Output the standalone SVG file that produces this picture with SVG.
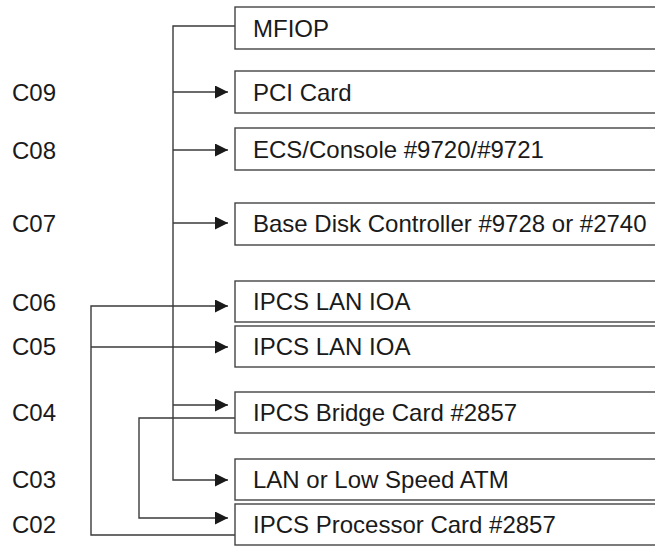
<svg xmlns="http://www.w3.org/2000/svg" width="655" height="546" viewBox="0 0 655 546">
<style>
.box{fill:#fff;stroke:#444;stroke-width:1.4}
.t{font-family:"Liberation Sans",Arial,sans-serif;font-size:24px;fill:#1a1a1a}
.c{fill:none;stroke:#3a3a3a;stroke-width:1.4}
</style>
<defs>
<marker id="ah" markerUnits="userSpaceOnUse" markerWidth="13" markerHeight="13" refX="13" refY="6.5" orient="auto">
<path d="M0,0 L13,6.5 L0,13 z" fill="#1a1a1a"/>
</marker>
</defs>
<rect width="655" height="546" fill="#fff"/>
<g id="slots">
<text class="t" x="12" y="100.5">C09</text>
<text class="t" x="12" y="158.5">C08</text>
<text class="t" x="12" y="232">C07</text>
<text class="t" x="12" y="310.5">C06</text>
<text class="t" x="12" y="355">C05</text>
<text class="t" x="12" y="421">C04</text>
<text class="t" x="12" y="488">C03</text>
<text class="t" x="12" y="533">C02</text>
</g>
<g id="connectors">
<path class="c" d="M235,26 H173 V480 H228" marker-end="url(#ah)"/>
<path class="c" d="M173,92 H228" marker-end="url(#ah)"/>
<path class="c" d="M173,150 H228" marker-end="url(#ah)"/>
<path class="c" d="M173,223 H228" marker-end="url(#ah)"/>
<path class="c" d="M173,405 H228" marker-end="url(#ah)"/>
<path class="c" d="M235,535 H91 V306 H228" marker-end="url(#ah)"/>
<path class="c" d="M91,347 H228" marker-end="url(#ah)"/>
<path class="c" d="M235,418 H139 V518 H228" marker-end="url(#ah)"/>
</g>
<g id="mfiop"><rect class="box" x="235" y="7" width="430" height="42"/><text class="t" x="253" y="36.5">MFIOP</text></g>
<g id="pci"><rect class="box" x="235" y="71" width="430" height="42"/><text class="t" x="253" y="100.5">PCI Card</text></g>
<g id="ecs"><rect class="box" x="235" y="128" width="430" height="42"/><text class="t" x="253" y="158">ECS/Console #9720/#9721</text></g>
<g id="basedisk"><rect class="box" x="235" y="203" width="430" height="42"/><text class="t" x="253" y="232">Base Disk Controller #9728 or #2740</text></g>
<g id="lan1"><rect class="box" x="235" y="281" width="430" height="41"/><text class="t" x="253" y="310">IPCS LAN IOA</text></g>
<g id="lan2"><rect class="box" x="235" y="326" width="430" height="41"/><text class="t" x="253" y="355">IPCS LAN IOA</text></g>
<g id="bridge"><rect class="box" x="235" y="392" width="430" height="41"/><text class="t" x="253" y="421">IPCS Bridge Card #2857</text></g>
<g id="lanatm"><rect class="box" x="235" y="459" width="430" height="41"/><text class="t" x="253" y="488">LAN or Low Speed ATM</text></g>
<g id="processor"><rect class="box" x="235" y="504" width="430" height="41"/><text class="t" x="253" y="533">IPCS Processor Card #2857</text></g>
</svg>
